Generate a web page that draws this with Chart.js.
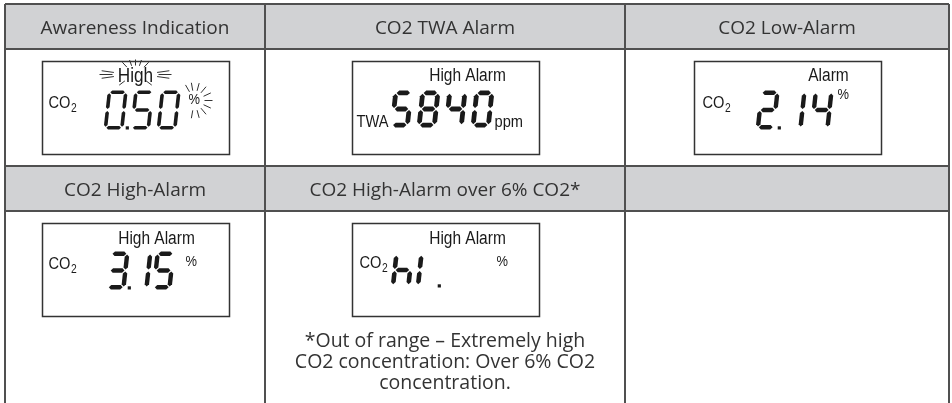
<!DOCTYPE html>
<html><head><meta charset="utf-8">
<script src="https://cdn.jsdelivr.net/npm/chart.js@4/dist/chart.umd.min.js"></script>
<style>html,body{margin:0;padding:0;background:#fff;overflow:hidden}canvas{display:block}</style>
</head><body>
<div style="width:952px;height:403px;position:relative"><canvas id="c" width="952" height="403"></canvas></div>
<script>
// ---- data ----
const columnTitles = ['Awareness Indication', 'CO2 TWA Alarm', 'CO2 Low-Alarm', 'CO2 High-Alarm', 'CO2 High-Alarm over 6% CO2*', ''];
const displayValues = ['0.50', '5840', '2.14', '3.15', 'hI.'];
const displayTopLabels = ['High', 'High Alarm', 'Alarm', 'High Alarm', 'High Alarm'];
const displayPrefixes = ['CO2', 'TWA', 'CO2', 'CO2', 'CO2'];
const displayUnits = ['%', 'ppm', '%', '%', '%'];
const noteLines = ['*Out of range \u2013 Extremely high', 'CO2 concentration: Over 6% CO2', 'concentration.'];

// ---- layout (positions / sizes only) ----
const colEdges = [0, 260, 620, 944];
const rowEdges = [0, 45, 162, 207];
const Y_MAX = 399;
const BOX_W = 187, BOX_H = 93, BOX_OFF = 12;
const TEXT_FONT = '19px "Open Sans", Roboto, sans-serif';
const NOTE_FONT = '19.5px "Open Sans", Roboto, sans-serif';
const panelLayout = [
  {col:0,row:0, top:{x:93,y:20,size:20}, pre:{x:6,y:46,size:17}, dig:{x:61,y:29,h:39,pitch:26.5,t:3.6}, unit:{x:146,y:42,size:15}, rays:true},
  {col:1,row:0, top:{x:115,y:19,size:18}, pre:{x:4,y:65,size:17}, dig:{x:37,y:29,h:37,pitch:27,t:4.8}, unit:{x:142,y:65,size:17}},
  {col:2,row:0, top:{x:134,y:19,size:18}, pre:{x:8,y:46,size:17}, dig:{x:61,y:29,h:39,pitch:27,t:4.4}, unit:{x:143,y:37,size:15}},
  {col:0,row:1, top:{x:114,y:20,size:18}, pre:{x:6,y:45,size:17}, dig:{x:63,y:28,h:38,pitch:23,t:4.4}, unit:{x:143,y:42,size:15}},
  {col:1,row:1, top:{x:115,y:20,size:18}, pre:{x:7,y:44,size:17}, dig:{x:38,y:29,h:35,pitch:25,t:4.6}, unit:{x:144,y:42,size:15}}
];
const notePos = {col:1, row:1, y0:130, dy:21};

const SEG = {'0':'abcdef','1':'bc','2':'abged','3':'abgcd','4':'fgbc','5':'afgcd','6':'afgedc','7':'abc','8':'abcdefg','9':'abcdfg','h':'fegc','I':'ef',' ':''};

function segPoly(s, w, h, t, gap){
  const H = (x1,x2,y)=>[[x1,y],[x1+t/2,y-t/2],[x2-t/2,y-t/2],[x2,y],[x2-t/2,y+t/2],[x1+t/2,y+t/2]];
  const V = (x,y1,y2)=>[[x,y1],[x+t/2,y1+t/2],[x+t/2,y2-t/2],[x,y2],[x-t/2,y2-t/2],[x-t/2,y1+t/2]];
  const l=t/2, r=w-t/2, top=t/2, mid=h/2, bot=h-t/2;
  switch(s){
    case 'a': return H(l+gap, r-gap, top);
    case 'g': return H(l+gap, r-gap, mid);
    case 'd': return H(l+gap, r-gap, bot);
    case 'f': return V(l, top+gap, mid-gap);
    case 'e': return V(l, mid+gap, bot-gap);
    case 'b': return V(r, top+gap, mid-gap);
    case 'c': return V(r, mid+gap, bot-gap);
  }
}
function drawSeven(ctx, str, x0, yTop, h, pitch, t){
  const w = 20, slant = 0.11, gap = 0.9;
  let cx = x0, last = x0;
  for (const ch of str){
    if (ch === '.'){
      ctx.fillRect(last + w + 2.2, yTop + h - 3.2, 3.2, 3.2);
      continue;
    }
    for (const s of (SEG[ch] || '')){
      const p = segPoly(s, w, h, t, gap);
      ctx.beginPath();
      p.forEach(([px,py],i)=>{ const X = cx + px + (h-py)*slant, Y = yTop + py; i ? ctx.lineTo(X,Y) : ctx.moveTo(X,Y); });
      ctx.closePath(); ctx.fill();
    }
    last = cx; cx += pitch;
  }
}
function narrowText(ctx, txt, x, y, size, align){
  const sx = 0.86;
  ctx.save();
  ctx.font = size + 'px "Liberation Sans", Arial, sans-serif';
  ctx.textAlign = align || 'left';
  ctx.textBaseline = 'alphabetic';
  ctx.translate(x, y); ctx.scale(sx, 1);
  ctx.fillText(txt, 0, 0);
  const wd = ctx.measureText(txt).width * sx;
  ctx.restore();
  return wd;
}
function prefixText(ctx, txt, x, y, size){
  if (txt.endsWith('2') && txt.startsWith('CO')){
    const wd = narrowText(ctx, txt.slice(0,-1), x, y, size);
    narrowText(ctx, '2', x + wd + 0.5, y + 4, Math.round(size*0.72));
  } else narrowText(ctx, txt, x, y, size);
}
function rays(ctx, cx, cy, r1x, r1y, r2x, r2y, angles){
  ctx.save(); ctx.strokeStyle = '#333'; ctx.lineWidth = 1;
  angles.forEach(a=>{
    const rad = a*Math.PI/180, c = Math.cos(rad), s = -Math.sin(rad);
    ctx.beginPath(); ctx.moveTo(cx + r1x*c, cy + r1y*s); ctx.lineTo(cx + r2x*c, cy + r2y*s); ctx.stroke();
  });
  ctx.restore();
}

const tablePlugin = {
  id: 'tablePlugin',
  beforeDraw(chart){
    const {ctx, scales:{x, y}} = chart;
    ctx.save();
    ctx.fillStyle = '#fff'; ctx.fillRect(0,0,chart.width,chart.height);
    ctx.fillStyle = '#d1d2d4';
    [0, 2].forEach(r=>{
      const y1 = y.getPixelForValue(rowEdges[r]), y2 = y.getPixelForValue(rowEdges[r+1]);
      ctx.fillRect(x.getPixelForValue(colEdges[0]), y1, x.getPixelForValue(colEdges[3]) - x.getPixelForValue(colEdges[0]), y2 - y1);
    });
    ctx.restore();
  },
  afterDraw(chart){
    const {ctx, scales:{x, y}} = chart;
    ctx.save();
    // header titles
    ctx.fillStyle = '#333';
    ctx.font = TEXT_FONT;
    ctx.textAlign = 'center'; ctx.textBaseline = 'middle';
    columnTitles.forEach((tt, i)=>{
      const c = i % 3, r = Math.floor(i/3);
      const cxp = (x.getPixelForValue(colEdges[c]) + x.getPixelForValue(colEdges[c+1]))/2;
      const cyp = (y.getPixelForValue(rowEdges[2*r]) + y.getPixelForValue(rowEdges[2*r+1]))/2 + 2;
      if (tt) ctx.fillText(tt, cxp, cyp);
    });
    // LCD panels
    displayValues.forEach((val, i)=>{
      const L = panelLayout[i];
      const cxp = (x.getPixelForValue(colEdges[L.col]) + x.getPixelForValue(colEdges[L.col+1]))/2;
      const bx = Math.round(cxp - BOX_W/2) + 0.5;
      const by = Math.round(y.getPixelForValue(rowEdges[2*L.row+1])) + BOX_OFF + 0.5;
      ctx.strokeStyle = '#333'; ctx.lineWidth = 1.5;
      ctx.strokeRect(bx, by, BOX_W, BOX_H);
      ctx.fillStyle = '#1a1a1a';
      narrowText(ctx, displayTopLabels[i], bx + L.top.x, by + L.top.y, L.top.size, 'center');
      prefixText(ctx, displayPrefixes[i], bx + L.pre.x, by + L.pre.y, L.pre.size);
      drawSeven(ctx, val, bx + L.dig.x, by + L.dig.y, L.dig.h, L.dig.pitch, L.dig.t);
      narrowText(ctx, displayUnits[i], bx + L.unit.x, by + L.unit.y, L.unit.size);
      if (L.rays){
        rays(ctx, bx + 93, by + 13, 23, 6, 36, 11, [160, 180, 200, 20, 0, -20]);
        rays(ctx, bx + 93, by + 13, 15, 9, 23, 15, [55, 75, 90, 105, 125, -45, 225]);
        rays(ctx, bx + 152, by + 39, 10, 10, 18, 18, [-100, -75, -50, -25, 0, 25, 50, 75, 100, 120]);
      }
    });
    // note
    ctx.fillStyle = '#333';
    ctx.font = NOTE_FONT;
    ctx.textAlign = 'center'; ctx.textBaseline = 'middle';
    const ncx = (x.getPixelForValue(colEdges[notePos.col]) + x.getPixelForValue(colEdges[notePos.col+1]))/2;
    const nTop = y.getPixelForValue(rowEdges[2*notePos.row+1]);
    noteLines.forEach((ln, k)=> ctx.fillText(ln, ncx, nTop + notePos.y0 + k*notePos.dy));
    ctx.restore();
  }
};

const gridCommon = {color:'#505050', lineWidth:2, drawTicks:false, drawOnChartArea:true};
new Chart(document.getElementById('c'), {
  type: 'scatter',
  data: {datasets: []},
  options: {
    responsive:false, animation:false, devicePixelRatio:1,
    layout: {padding:{left:5, top:4, right:3, bottom:0}},
    plugins: {legend:{display:false}, tooltip:{enabled:false}},
    scales: {
      x: {type:'linear', min:colEdges[0], max:colEdges[colEdges.length-1], grid:gridCommon, border:{display:false}, ticks:{display:false},
          afterBuildTicks: s => { s.ticks = colEdges.map(v=>({value:v})); }},
      y: {type:'linear', reverse:true, min:0, max:Y_MAX, grid:gridCommon, border:{display:false}, ticks:{display:false},
          afterBuildTicks: s => { s.ticks = rowEdges.map(v=>({value:v})); }}
    }
  },
  plugins: [tablePlugin]
});
</script>
</body></html>
